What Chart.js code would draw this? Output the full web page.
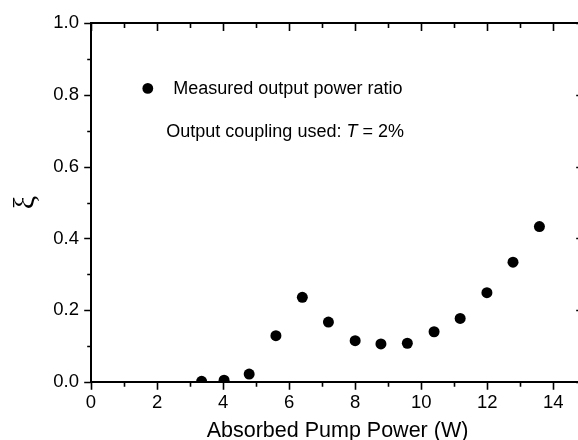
<!DOCTYPE html>
<html><head><meta charset="utf-8">
<script src="https://cdn.jsdelivr.net/npm/chart.js@4"></script>
<style>html,body{margin:0;padding:0;overflow:hidden;background:#fff;width:578px;height:440px}canvas{display:block}</style>
</head><body>
<canvas id="c" width="600" height="440"></canvas>
<script>
// ---- data ----
const pumpPower = [3.35, 4.03, 4.79, 5.60, 6.40, 7.19, 8.00, 8.78, 9.58, 10.39, 11.18, 11.99, 12.78, 13.58];
const ratio     = [0.002, 0.005, 0.022, 0.129, 0.236, 0.167, 0.115, 0.106, 0.108, 0.140, 0.177, 0.249, 0.334, 0.433];
const xTickValues = [0, 2, 4, 6, 8, 10, 12, 14];
const xTickLabels = ['0', '2', '4', '6', '8', '10', '12', '14'];
const yTickValues = [0, 0.2, 0.4, 0.6, 0.8, 1.0];
const yTickLabels = ['0.0', '0.2', '0.4', '0.6', '0.8', '1.0'];
const seriesLabel = 'Measured output power ratio';
const noteParts = ['Output coupling used: ', 'T', ' = 2%'];
const xTitle = 'Absorbed Pump Power (W)';
const yTitle = 'ξ';

const SANS = "'Liberation Sans', Arial, sans-serif";

function labelFor(values, labels, v) {
  for (let i = 0; i < values.length; i++) if (Math.abs(values[i] - v) < 1e-6) return labels[i];
  return '';
}

const framePlugin = {
  id: 'frame',
  afterDraw(chart) {
    const {ctx, chartArea: {left, right, top, bottom}, scales: {x, y}} = chart;
    ctx.save();
    ctx.strokeStyle = '#000';
    ctx.lineCap = 'square';
    ctx.lineWidth = 1.6;
    for (let i = 0; i <= 14; i++) {
      const px = Math.round(x.getPixelForValue(i)) + 0.5;
      const major = i % 2 === 0;
      ctx.beginPath();
      ctx.moveTo(px, bottom); ctx.lineTo(px, bottom + (major ? 7 : 4));
      ctx.moveTo(px, top); ctx.lineTo(px, top + (major ? 7 : 4));
      ctx.stroke();
    }
    for (let i = 0; i <= 10; i++) {
      const py = Math.round(y.getPixelForValue(i / 10)) + 0.5;
      const major = i % 2 === 0;
      ctx.beginPath();
      ctx.moveTo(left, py); ctx.lineTo(left - (major ? 6 : 3), py);
      ctx.moveTo(right, py); ctx.lineTo(right - (major ? 7 : 4), py);
      ctx.stroke();
    }
    ctx.lineWidth = 2;
    ctx.beginPath();
    ctx.moveTo(left, top); ctx.lineTo(right, top); ctx.lineTo(right, bottom);
    ctx.lineTo(left, bottom); ctx.closePath();
    ctx.stroke();

    // legend entry (inside plot)
    const ds = chart.data.datasets[0];
    const lx = x.getPixelForValue(1.72), ly = y.getPixelForValue(0.818);
    ctx.fillStyle = ds.pointBackgroundColor;
    ctx.beginPath(); ctx.arc(lx, ly, 5.4, 0, Math.PI * 2); ctx.fill();
    ctx.font = '18px ' + SANS;
    ctx.textBaseline = 'middle';
    ctx.textAlign = 'left';
    ctx.fillText(ds.label, lx + 25.5, ly + 1);

    // note line
    let nx = lx + 18.5;
    const ny = y.getPixelForValue(0.697);
    noteParts.forEach((t, i) => {
      ctx.font = (i === 1 ? 'italic ' : '') + '18px ' + SANS;
      ctx.fillText(t, nx, ny);
      nx += ctx.measureText(t).width;
    });
    ctx.restore();
  }
};

new Chart(document.getElementById('c'), {
  type: 'scatter',
  data: {
    datasets: [{
      label: seriesLabel,
      data: pumpPower.map((p, i) => ({x: p, y: ratio[i]})),
      pointRadius: 5.5,
      pointHoverRadius: 5.5,
      pointBackgroundColor: '#000',
      pointBorderWidth: 0,
      showLine: false,
      clip: 0
    }]
  },
  options: {
    responsive: false,
    animation: false,
    devicePixelRatio: 1,
    events: [],
    layout: {padding: {top: 20, right: 16, left: 0, bottom: 0}},
    plugins: {legend: {display: false}, tooltip: {enabled: false}},
    scales: {
      x: {
        type: 'linear',
        min: 0, max: 14.93,
        grid: {display: false, drawTicks: false},
        border: {display: false},
        ticks: {
          stepSize: 2, includeBounds: false, autoSkip: false, maxRotation: 0,
          padding: 10, color: '#000',
          font: {family: SANS, size: 18.5},
          callback: v => labelFor(xTickValues, xTickLabels, v)
        },
        title: {display: true, text: xTitle, color: '#000',
          font: {family: SANS, size: 21.5, lineHeight: 0.82}, padding: 0},
        afterFit: s => { s.height = 58; }
      },
      y: {
        type: 'linear',
        min: 0, max: 1.0,
        grid: {display: false, drawTicks: false},
        border: {display: false},
        ticks: {
          stepSize: 0.2, includeBounds: false, autoSkip: false,
          padding: 12, color: '#000',
          font: {family: SANS, size: 18.5},
          callback: v => labelFor(yTickValues, yTickLabels, v)
        },
        title: {display: true, text: yTitle, color: '#000',
          font: {family: "'Liberation Serif', 'DejaVu Serif', serif", size: 30, lineHeight: 1},
          padding: {top: 11, bottom: 0}},
        afterFit: s => { s.width = 91; }
      }
    }
  },
  plugins: [framePlugin]
});
</script>
</body></html>
